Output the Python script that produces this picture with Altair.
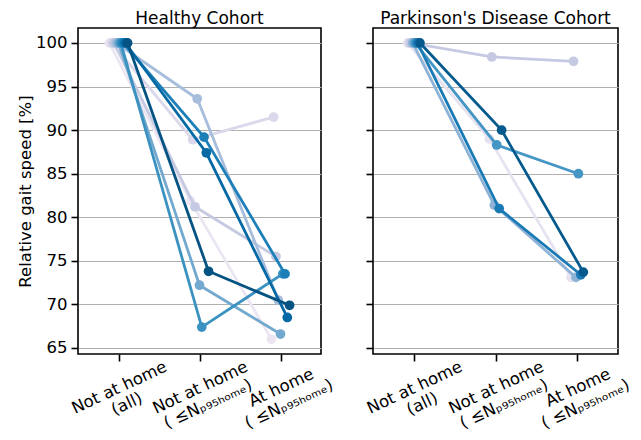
import json
import altair as alt
import pandas as pd

# ---------------- data ----------------
cond_values = [0, 1, 2]
cond_labels = [
    ["Not at home", "(all)"],
    ["Not at home", "( ≤Nₚ₉₅ₕₒₘₑ)"],
    ["At home", "( ≤Nₚ₉₅ₕₒₘₑ)"],
]

healthy_subjects = ["H1", "H2", "H3", "H4", "H5", "H6", "H7", "H8", "H9"]
healthy_all = [100, 100, 100, 100, 100, 100, 100, 100, 100]
healthy_not_home = [81.9, 88.9, 81.2, 93.6, 72.2, 67.4, 89.2, 87.4, 73.8]
healthy_at_home = [66.0, 91.5, 75.5, 70.5, 66.6, 73.5, 73.5, 68.5, 69.9]
healthy_colors = ["#ebe6f2", "#dad8ea", "#c5cae2", "#a6bddb", "#74a9cf",
                  "#3b92c1", "#1c7fb8", "#0569a5", "#045382"]

pd_subjects = ["P1", "P2", "P3", "P4", "P5", "P6"]
pd_all = [100, 100, 100, 100, 100, 100]
pd_not_home = [89.0, 98.4, 81.4, 88.3, 81.0, 90.0]
pd_at_home = [73.1, 97.9, 73.1, 85.0, 73.4, 73.7]
pd_colors = ["#e6e2ef", "#c6c9e2", "#8fb3d6", "#4596c4", "#1a7ab5", "#045a8d"]

y_ticks = [65, 70, 75, 80, 85, 90, 95, 100]


def build_df(subjects, a, b, c, step):
    rows = []
    n = len(subjects)
    for i, s in enumerate(subjects):
        off = (i - (n - 1) / 2) * step
        for cond, val in zip(cond_values, (a[i], b[i], c[i])):
            rows.append({"subject": s, "cond": cond, "xpos": cond + off, "speed": val})
    return pd.DataFrame(rows)


label_expr = " : ".join(
    f"datum.value == {v} ? {json.dumps(l, ensure_ascii=False)}"
    for v, l in zip(cond_values[:-1], cond_labels[:-1])
) + " : " + json.dumps(cond_labels[-1], ensure_ascii=False)


def panel(df, subjects, colors, title, first, width):
    x = alt.X("xpos:Q",
              scale=alt.Scale(domain=[-0.5, 2.5], nice=False, zero=False),
              axis=alt.Axis(values=cond_values, labelExpr=label_expr, title=None,
                            grid=False, labelOverlap=False, labelFlush=False))
    y = alt.Y("speed:Q",
              scale=alt.Scale(domain=[64.31, 101.72], nice=False, zero=False),
              axis=alt.Axis(values=y_ticks, grid=True, labels=first,
                            title="Relative gait speed [%]" if first else None))
    layers = []
    for s, c in zip(subjects, colors):
        sub = df[df["subject"] == s]
        base = alt.Chart(sub)
        layers.append(base.mark_line(color=c, strokeWidth=2.8).encode(x=x, y=y))
        layers.append(base.mark_circle(color=c, size=95, opacity=1).encode(x=x, y=y))
    return alt.layer(*layers).properties(
        width=width, height=326,
        title=alt.TitleParams(title, fontSize=17, font="DejaVu Sans",
                              fontWeight="normal", color="black", offset=0,
                              anchor="middle"),
    )


h_df = build_df(healthy_subjects, healthy_all, healthy_not_home, healthy_at_home, 0.028)
p_df = build_df(pd_subjects, pd_all, pd_not_home, pd_at_home, 0.03)

chart = alt.hconcat(
    panel(h_df, healthy_subjects, healthy_colors, "Healthy Cohort", True, 243),
    panel(p_df, pd_subjects, pd_colors, "Parkinson's Disease Cohort", False, 245),
    spacing=26,
).properties(
    autosize=alt.AutoSizeParams(type="none"),
    padding={"left": 70, "top": 20, "right": 555, "bottom": 398},
    background="white",
).configure_view(
    stroke="black", strokeWidth=1.6
).configure_axis(
    labelFont="DejaVu Sans", labelColor="black",
    titleFont="DejaVu Sans", titleFontSize=16.5, titleFontWeight="normal", titleColor="black",
    tickColor="black", tickSize=7, tickWidth=1.6,
    gridColor="#b0b0b0", gridWidth=1.2, domain=False,
).configure_axisY(
    labelFontSize=16.5, labelPadding=4, titlePadding=2,
).configure_axisX(
    labelFontSize=16.5, labelAngle=-25, labelAlign="center", labelBaseline="top",
    labelPadding=19, labelOffset=-3, labelLineHeight=18,
)

chart.save("out.html", embed_options={"renderer": "svg", "actions": False})
